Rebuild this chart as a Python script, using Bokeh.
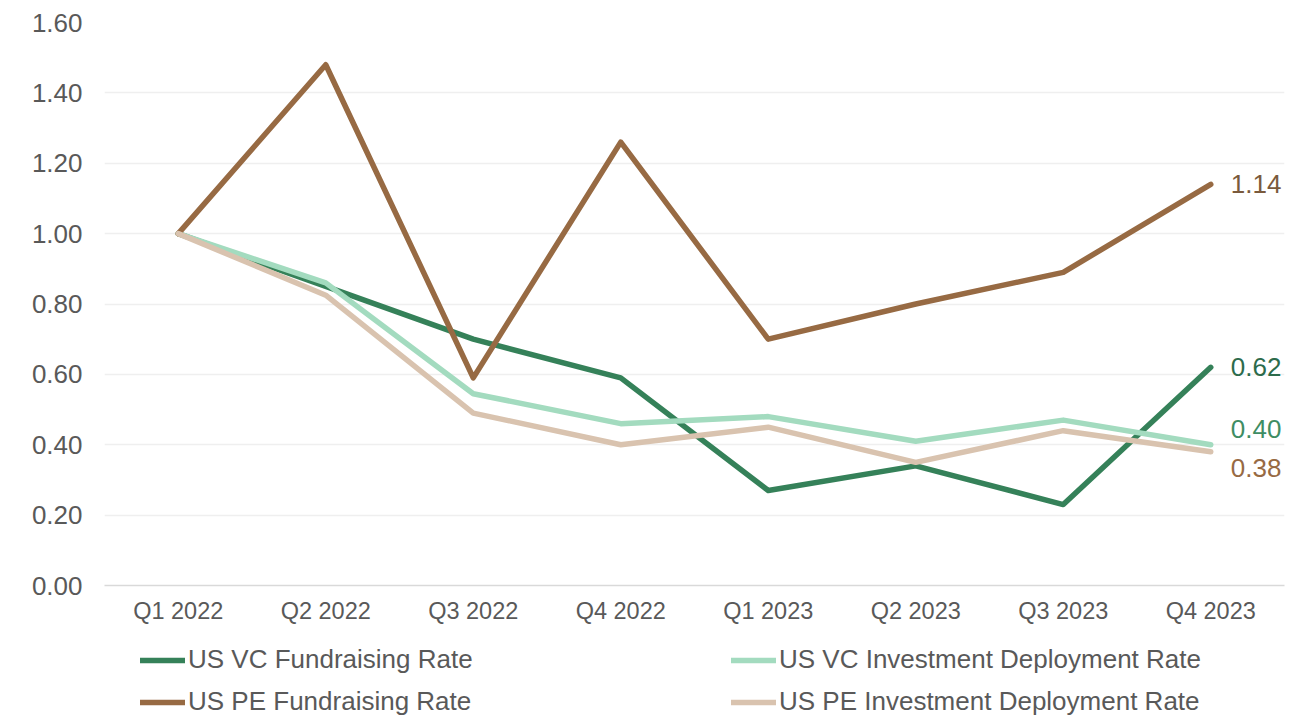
from bokeh.plotting import figure
from bokeh.layouts import column
from bokeh.models import (FixedTicker, NumeralTickFormatter, Legend, LegendItem,
                          ColumnDataSource, Range1d, FactorRange)
from bokeh.core.properties import value
from bokeh.embed import file_html
from bokeh.resources import INLINE

quarters = ["Q1 2022", "Q2 2022", "Q3 2022", "Q4 2022",
            "Q1 2023", "Q2 2023", "Q3 2023", "Q4 2023"]
vc_fundraising = [1.00, 0.85, 0.70, 0.59, 0.27, 0.34, 0.23, 0.62]
vc_investment = [1.00, 0.86, 0.545, 0.46, 0.48, 0.41, 0.47, 0.40]
pe_fundraising = [1.00, 1.48, 0.59, 1.26, 0.70, 0.80, 0.89, 1.14]
pe_investment = [1.00, 0.825, 0.49, 0.40, 0.45, 0.35, 0.44, 0.38]

series_names = ["US VC Fundraising Rate", "US VC Investment Deployment Rate",
                "US PE Fundraising Rate", "US PE Investment Deployment Rate"]
series_values = [vc_fundraising, vc_investment, pe_fundraising, pe_investment]
series_colors = ["#358159", "#A3DBBF", "#976A43", "#D9C3AF"]
label_colors = ["#2C6B4B", "#3E8D63", "#7A5A3C", "#976A43"]
label_offsets = [0, 16, 0, -16]
legend_order = [0, 2, 1, 3]
yticks = [0, 0.2, 0.4, 0.6, 0.8, 1.0, 1.2, 1.4, 1.6]

FONT = "Liberation Sans"
GRAY = "#595959"
W = 1300

p = figure(width=W, height=628, x_range=FactorRange(*quarters),
           y_range=Range1d(0, 1.6), output_backend="svg", toolbar_location=None,
           min_border_left=104, min_border_right=16, min_border_top=22,
           min_border_bottom=43)
p.outline_line_color = None

for name, vals, col, lc, off in zip(series_names, series_values, series_colors,
                                    label_colors, label_offsets):
    p.line(quarters, vals, line_color=col, line_width=5.5,
           line_cap="round", line_join="round")
    src = ColumnDataSource(dict(x=[quarters[-1]], y=[vals[-1]],
                                t=["{:.2f}".format(vals[-1])]))
    p.text(x="x", y="y", text="t", source=src, x_offset=20, y_offset=-off,
           text_color=lc, text_font=value(FONT), text_font_size="26px",
           text_baseline="middle", text_align="left")

p.yaxis.ticker = FixedTicker(ticks=yticks)
p.yaxis.formatter = NumeralTickFormatter(format="0.00")
p.yaxis.axis_line_color = None
p.yaxis.major_tick_line_color = None
p.yaxis.minor_tick_line_color = None
p.yaxis.major_label_text_font = FONT
p.yaxis.major_label_text_font_size = "26px"
p.yaxis.major_label_text_color = GRAY
p.yaxis.major_label_standoff = 16

p.xaxis.axis_line_color = "#D9D9D9"
p.xaxis.axis_line_width = 1.5
p.xaxis.major_tick_line_color = None
p.xaxis.minor_tick_line_color = None
p.xaxis.major_label_text_font = FONT
p.xaxis.major_label_text_font_size = "23.5px"
p.xaxis.major_label_text_color = GRAY
p.xaxis.major_label_standoff = 6

p.xgrid.grid_line_color = None
p.ygrid.grid_line_color = "#EFEFEF"
p.ygrid.grid_line_width = 1.5
p.ygrid.ticker = FixedTicker(ticks=yticks)

# legend strip below the chart (its sample lines lie outside its visible range)
lg = figure(width=W, height=91, x_range=FactorRange(*quarters),
            y_range=Range1d(10, 11), output_backend="svg",
            toolbar_location=None, min_border=0)
lg.outline_line_color = None
lg.axis.visible = False
lg.grid.visible = False
lg_renderers = []
for vals, col in zip(series_values, series_colors):
    lg_renderers.append(lg.line(quarters, vals, line_color=col, line_width=5.5,
                                line_cap="round"))
items = [LegendItem(label=series_names[i], renderers=[lg_renderers[i]])
         for i in legend_order]
legend = Legend(items=items, orientation="vertical", ncols=2,
                location=(36, 2), label_text_font=FONT,
                label_text_font_size="26px", label_text_color=GRAY,
                glyph_width=45, glyph_height=30, label_height=30,
                label_standoff=3, label_width=532, spacing=11,
                padding=0, margin=0, border_line_alpha=0,
                background_fill_alpha=0)
lg.add_layout(legend, "center")

layout = column(p, lg, spacing=0)
open("out.html", "w").write(file_html(layout, INLINE))
